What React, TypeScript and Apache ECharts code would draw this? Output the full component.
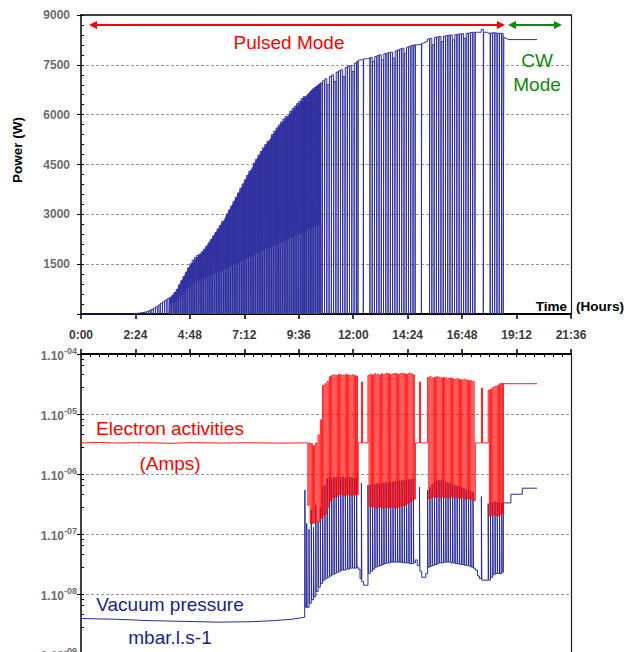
import React, { useEffect, useRef } from "react";
import * as echarts from "echarts";

// ---------- tick labels ----------
const timeTickLabels = ["0:00", "2:24", "4:48", "7:12", "9:36", "12:00", "14:24", "16:48", "19:12", "21:36"];
const pressureTickExponents: Record<string, string> = { "-4": "-04", "-5": "-05", "-6": "-06", "-7": "-07", "-8": "-08", "-9": "-09" };

// ---------- top chart: power (W) ----------
// idle start
const idleHours = [0, 2.3];
const idlePower = [0, 0];
// ramp-up drops (each drop reaches 0 W)
const rampHours = [
  2.4, 2.5, 2.6, 2.7, 2.8, 2.9, 3.0, 3.1, 3.2, 3.3,
  3.4, 3.5, 3.6, 3.7, 3.8, 3.9, 4.0, 4.1, 4.2, 4.3,
  4.4, 4.5, 4.6, 4.7, 4.8, 4.9, 5.0, 5.1, 5.2, 5.3,
  5.4, 5.5, 5.6, 5.7, 5.8, 5.9, 6.0, 6.1, 6.2, 6.3,
  6.4, 6.5, 6.6, 6.7, 6.8, 6.9, 7.0, 7.1, 7.2, 7.3,
  7.4, 7.5, 7.6, 7.7, 7.8, 7.9, 8.0, 8.1, 8.2, 8.3,
  8.4, 8.5, 8.6, 8.7, 8.8, 8.9, 9.0, 9.1, 9.2, 9.3,
  9.4, 9.5, 9.6, 9.7, 9.8,
];
const rampPeak = [
  20, 25, 35, 45, 60, 80, 110, 140, 180, 220,
  270, 320, 370, 420, 460, 500, 560, 650, 740, 880,
  1000, 1130, 1260, 1390, 1510, 1620, 1700, 1760, 1800, 1870,
  1950, 2040, 2140, 2240, 2350, 2450, 2560, 2670, 2780, 2700,
  3010, 3130, 3250, 3380, 3510, 3640, 3780, 3910, 4040, 4170,
  4300, 4250, 4540, 4660, 4780, 4890, 5000, 5100, 5200, 5150,
  5400, 5500, 5600, 5690, 5780, 5870, 5950, 5850, 6100, 6180,
  6250, 6330, 6400, 6480, 6550,
];
const rampFloorLevel = 0;
// dense pulsing band (solid region of the ramp)
const bandHours = [3.9, 4.2, 4.5, 4.8, 5.1, 5.4, 5.8, 6.2, 6.6, 7.0, 7.4, 7.8, 8.2, 8.6, 9.0, 9.4, 9.8, 10.2, 10.6];
const bandUpper = [450, 700, 1080, 1450, 1700, 1900, 2300, 2720, 3200, 3720, 4240, 4720, 5140, 5540, 5880, 6180, 6480, 6780, 6980];
const bandLower = [250, 400, 620, 850, 980, 1060, 1180, 1310, 1440, 1570, 1700, 1830, 1960, 2080, 2210, 2340, 2470, 2590, 2720];

// ---------- shared pulse events (pulsed mode, after 9:52) ----------
const pulseHours = [
  9.87, 9.95, 10.05, 10.15, 10.25, 10.35, 10.45, 10.55,
  10.65, 10.75, 10.85, 10.95, 11.05, 11.15, 11.25, 11.35, 11.45, 11.55, 11.65, 11.75, 11.85, 11.95, 12.05, 12.15,
  12.22, 12.3, 12.36, 12.46, 12.56,
  12.65, 12.75, 12.85, 12.95, 13.05, 13.15, 13.25, 13.35, 13.45, 13.55, 13.65, 13.75, 13.85, 13.95, 14.05, 14.15, 14.25, 14.35, 14.45, 14.55, 14.65,
  14.74, 14.82, 14.92, 15.02, 15.12, 15.2,
  15.28, 15.38, 15.48, 15.58, 15.68, 15.78, 15.88, 15.98, 16.08, 16.18, 16.28, 16.38, 16.48, 16.58, 16.68, 16.78, 16.88, 16.98, 17.08, 17.18, 17.28,
  17.38, 17.48, 17.56, 17.65, 17.75, 17.85,
  17.95, 18.05, 18.15, 18.25, 18.35, 18.45, 18.55,
];
const powerPeak = [
  6480, 6530, 6600, 6680, 6750, 6820, 6880, 6950,
  7020, 7080, 6900, 7150, 7200, 7000, 7280, 7320, 7350, 7150, 7420, 7450, 7480, 7300, 7550, 7600,
  7640, 7650, 7650, 7680, 7690,
  7700, 7720, 7600, 7750, 7780, 7800, 7650, 7830, 7850, 7870, 7880, 7700, 7920, 7950, 7980, 8000, 7850, 8030, 8060, 8080, 8100,
  8100, 8110, 8120, 8150, 8170, 8200,
  8280, 8300, 8100, 8320, 8340, 8350, 8200, 8360, 8380, 8390, 8400, 8250, 8410, 8420, 8430, 8440, 8300, 8450, 8460, 8470, 8480,
  8480, 8480, 8480, 8570, 8480, 8480,
  8450, 8460, 8470, 8460, 8450, 8450, 8440,
];
const powerFloor = [
  0, 0, 0, 0, 0, 0, 0, 0,
  0, 0, 0, 0, 0, 0, 0, 0, 0, 0, 0, 0, 0, 0, 0, 0,
  7640, 7650, 0, 7680, 7690,
  0, 0, 0, 0, 0, 0, 0, 0, 0, 0, 0, 0, 0, 0, 0, 0, 0, 0, 0, 0, 0,
  8100, 8110, 0, 8150, 8170, 8200,
  0, 0, 0, 0, 0, 0, 0, 0, 0, 0, 0, 0, 0, 0, 0, 0, 0, 0, 0, 0, 0,
  8480, 8480, 8480, 0, 8480, 8480,
  0, 0, 0, 0, 0, 0, 0,
];
const electronHigh = [
  3.3e-6, 3.3e-6, 3.3e-6, 3.2e-6, 3.0e-6, 3.3e-6, 4.5e-6, 8e-6,
  3e-5, 3.2e-5, 3.5e-5, 4.2e-5, 4.4e-5, 4.5e-5, 4.4e-5, 4.6e-5, 4.5e-5, 4.4e-5, 4.6e-5, 4.5e-5, 4.4e-5, 4.5e-5, 4.4e-5, 4.3e-5,
  3.3e-6, 3.3e-6, 3.4e-5, 3.3e-6, 3.3e-6,
  4.4e-5, 4.6e-5, 4.5e-5, 4.7e-5, 4.6e-5, 4.5e-5, 4.7e-5, 4.6e-5, 4.8e-5, 4.7e-5, 4.6e-5, 4.7e-5, 4.8e-5, 4.6e-5, 4.7e-5, 4.8e-5, 4.7e-5, 4.6e-5, 4.8e-5, 4.7e-5, 4.5e-5,
  3.3e-6, 3.3e-6, 3.4e-5, 3.3e-6, 3.3e-6, 3.3e-6,
  4.1e-5, 4.2e-5, 4.0e-5, 4.1e-5, 4.2e-5, 4.1e-5, 4.0e-5, 4.1e-5, 4.0e-5, 3.9e-5, 4.0e-5, 3.9e-5, 3.8e-5, 3.9e-5, 3.8e-5, 3.7e-5, 3.8e-5, 3.7e-5, 3.6e-5, 3.6e-5, 3.5e-5,
  3.3e-6, 3.3e-6, 3.3e-6, 2.7e-5, 3.3e-6, 3.3e-6,
  2.5e-5, 2.6e-5, 2.8e-5, 2.9e-5, 3.0e-5, 3.2e-5, 3.3e-5,
];
const electronLow = [
  3.3e-6, 3e-7, 1.5e-7, 1.5e-7, 1.5e-7, 1.6e-7, 1.6e-7, 1.8e-7,
  2e-7, 2.2e-7, 2.8e-7, 3.5e-7, 4e-7, 4.2e-7, 4.2e-7, 4.5e-7, 4.5e-7, 4.3e-7, 4.5e-7, 4.5e-7, 4.4e-7, 4.5e-7, 4.5e-7, 4.5e-7,
  3.3e-6, 3.3e-6, 3.3e-6, 3.3e-6, 3.3e-6,
  3e-7, 2.8e-7, 2.8e-7, 2.7e-7, 2.8e-7, 2.8e-7, 2.7e-7, 2.8e-7, 2.8e-7, 2.7e-7, 2.8e-7, 2.8e-7, 2.7e-7, 2.8e-7, 2.9e-7, 3e-7, 3e-7, 3.2e-7, 3.4e-7, 3.6e-7, 3.8e-7,
  3.3e-6, 3.3e-6, 3.3e-6, 3.3e-6, 3.3e-6, 3.3e-6,
  3.8e-7, 4e-7, 4.2e-7, 4e-7, 4.1e-7, 4e-7, 4.2e-7, 4e-7, 4.1e-7, 4e-7, 4.2e-7, 4e-7, 4.1e-7, 4e-7, 3.9e-7, 4e-7, 3.8e-7, 3.9e-7, 3.8e-7, 3.7e-7, 3.6e-7,
  3.3e-6, 3.3e-6, 3.3e-6, 3.3e-6, 3.3e-6, 3.3e-6,
  2e-7, 2e-7, 2.1e-7, 2e-7, 2e-7, 2.1e-7, 2.2e-7,
];
const vacuumHigh = [
  5.4e-7, 1.5e-7, 1.2e-7, 2.5e-7, 1.3e-7, 3e-7, 1.6e-7, 2.8e-7,
  6e-7, 6.5e-7, 8.5e-7, 8.8e-7, 8.5e-7, 9e-7, 8.7e-7, 9e-7, 8.8e-7, 9e-7, 8.6e-7, 8.9e-7, 9e-7, 8.8e-7, 8.5e-7, 8.8e-7,
  2.6e-8, 1.8e-8, 7e-7, 1.4e-8, 1.4e-8,
  6.5e-7, 6.6e-7, 6.8e-7, 6.8e-7, 7e-7, 7e-7, 7.1e-7, 7.2e-7, 7.2e-7, 7.3e-7, 7.4e-7, 7.5e-7, 7.5e-7, 7.6e-7, 7.7e-7, 7.8e-7, 7.9e-7, 8e-7, 8.1e-7, 8.2e-7, 8.3e-7,
  3.7e-8, 3e-8, 6e-7, 1.9e-8, 1.9e-8, 2.2e-8,
  5.4e-7, 6e-7, 6.8e-7, 7.4e-7, 7.8e-7, 8e-7, 8e-7, 7.8e-7, 7.5e-7, 7.2e-7, 7e-7, 6.8e-7, 6.6e-7, 6.4e-7, 6.2e-7, 6e-7, 5.8e-7, 5.6e-7, 5.4e-7, 5.2e-7, 5e-7,
  2.5e-8, 2e-8, 1.8e-8, 4.2e-7, 1.7e-8, 1.7e-8,
  3.2e-7, 3.4e-7, 3.4e-7, 3.5e-7, 3.4e-7, 3.4e-7, 3.3e-7,
];
const vacuumLow = [
  6e-9, 6e-9, 7e-9, 8e-9, 9e-9, 1.1e-8, 1.3e-8, 1.5e-8,
  1.7e-8, 1.8e-8, 1.9e-8, 2e-8, 2.1e-8, 2.2e-8, 2.3e-8, 2.4e-8, 2.5e-8, 2.5e-8, 2.6e-8, 2.6e-8, 2.7e-8, 2.7e-8, 2.7e-8, 2.8e-8,
  2.6e-8, 1.8e-8, 1.6e-8, 1.4e-8, 1.4e-8,
  2.2e-8, 2.4e-8, 2.6e-8, 2.8e-8, 2.9e-8, 3e-8, 3.1e-8, 3.2e-8, 3.3e-8, 3.3e-8, 3.4e-8, 3.4e-8, 3.4e-8, 3.4e-8, 3.4e-8, 3.3e-8, 3.3e-8, 3.3e-8, 3.2e-8, 3.2e-8, 3.3e-8,
  3.7e-8, 3e-8, 2.4e-8, 1.9e-8, 1.9e-8, 2.2e-8,
  2.8e-8, 2.9e-8, 3e-8, 3.1e-8, 3.2e-8, 3.3e-8, 3.3e-8, 3.4e-8, 3.4e-8, 3.4e-8, 3.3e-8, 3.3e-8, 3.2e-8, 3.2e-8, 3.1e-8, 3.1e-8, 3e-8, 3e-8, 2.9e-8, 2.8e-8, 2.7e-8,
  2.5e-8, 2e-8, 1.8e-8, 1.7e-8, 1.7e-8, 1.7e-8,
  1.7e-8, 1.9e-8, 2.1e-8, 2.2e-8, 2.2e-8, 2.2e-8, 2.3e-8,
];

// ---------- CW mode tails ----------
const powerTailHours = [18.62, 18.64, 18.85, 20.1];
const powerTail = [0, 8330, 8260, 8260];
const electronTailHours = [18.62, 20.1];
const electronTail = [3.2e-5, 3.2e-5];
const vacuumTailHours = [18.62, 18.95, 18.95, 19.45, 19.45, 20.1];
const vacuumTail = [3.3e-7, 3.3e-7, 4.6e-7, 4.6e-7, 5.8e-7, 5.8e-7];

// ---------- quiet baselines before pulsing ----------
const electronBaseHours = [0, 0.8, 1.6, 2.4, 3.2, 4.0, 4.8, 5.6, 6.4, 7.2, 8.0, 8.8, 9.6, 9.86];
const electronBase = [3.3e-6, 3.35e-6, 3.28e-6, 3.32e-6, 3.3e-6, 3.25e-6, 3.33e-6, 3.3e-6, 3.28e-6, 3.32e-6, 3.3e-6, 3.27e-6, 3.3e-6, 3.3e-6];
const vacuumBaseHours = [0, 1.5, 3, 4.5, 6, 7.5, 8.5, 9.3, 9.86];
const vacuumBase = [3.9e-9, 3.8e-9, 3.6e-9, 3.5e-9, 3.4e-9, 3.45e-9, 3.6e-9, 3.8e-9, 4.1e-9];

// ---------- helpers ----------
const toMin = (h: number) => h * 60;
const pairs = (hours: number[], vals: number[]) => hours.map((h, i) => [toMin(h), vals[i]]);

function pulseTrain(hours: number[], high: number[], low: number[], frac: number, endGap: number) {
  const pts: number[][] = [];
  for (let i = 0; i < hours.length; i++) {
    const t = hours[i];
    const next = i + 1 < hours.length ? hours[i + 1] : t + endGap;
    const m = t + frac * (next - t);
    pts.push([toMin(t), high[i]], [toMin(m), high[i]], [toMin(m), low[i]], [toMin(next), low[i]]);
  }
  return pts;
}

const FONT = '"Liberation Sans", Arial, Helvetica, sans-serif';

function buildOption() {
  const powerHours = rampHours.concat(pulseHours);
  const powerHigh = rampPeak.concat(powerPeak);
  const powerLow = rampHours.map(() => rampFloorLevel).concat(powerFloor);
  const powerData = [
    ...pairs(idleHours, idlePower),
    ...pulseTrain(powerHours, powerHigh, powerLow, 0.85, 0.07),
    ...pairs(powerTailHours, powerTail),
  ];
  const electronData = [
    ...pairs(electronBaseHours, electronBase),
    ...pulseTrain(pulseHours, electronHigh, electronLow, 0.5, 0.07),
    ...pairs(electronTailHours, electronTail),
  ];
  const vacuumData = [
    ...pairs(vacuumBaseHours, vacuumBase),
    ...pulseTrain(pulseHours, vacuumHigh, vacuumLow, 0.2, 0.07),
    ...pairs(vacuumTailHours, vacuumTail),
  ];

  const dashed = { show: true, showMinLine: false, showMaxLine: false, lineStyle: { color: "#9a9a9a", type: [3, 2], width: 1 } };
  const xBase = { type: "value", min: 0, max: 1296, interval: 144 };
  const labelGray = { color: "#6b6b6b", fontWeight: "bold", fontSize: 12, fontFamily: FONT };

  return {
    animation: false,
    grid: [
      { left: 81, top: 15, width: 490, height: 299, containLabel: false, outerBoundsMode: "none" },
      { left: 81, top: 354, width: 490, height: 300, containLabel: false, outerBoundsMode: "none" },
    ],
    xAxis: [
      {
        ...xBase, gridIndex: 0, position: "bottom",
        axisLine: { show: true, onZero: false, lineStyle: { color: "#000", width: 2 } },
        axisTick: { show: true, length: 5, lineStyle: { color: "#000", width: 1.5 } },
        axisLabel: {
          show: true, margin: 15, color: "#3a3a3a", fontWeight: "bold", fontSize: 12, fontFamily: FONT,
          formatter: (v: number) => timeTickLabels[Math.round(v / 144)] ?? "",
        },
        splitLine: { show: false },
      },
      {
        ...xBase, gridIndex: 0, position: "top",
        axisLine: { show: true, onZero: false, lineStyle: { color: "#000", width: 1.5 } },
        axisTick: { show: false }, axisLabel: { show: false }, splitLine: { show: false },
      },
      {
        ...xBase, gridIndex: 1, position: "top",
        axisLine: { show: true, onZero: false, lineStyle: { color: "#000", width: 2 } },
        axisTick: { show: true, length: 5, lineStyle: { color: "#000", width: 1.5 } },
        axisLabel: { show: false }, splitLine: { show: false },
      },
      {
        ...xBase, gridIndex: 1, position: "top",
        axisLine: { show: false },
        axisTick: { show: true, inside: true, length: 3, lineStyle: { color: "#000" } },
        minorTick: { show: true, splitNumber: 6, length: 3, lineStyle: { color: "#000" } },
        axisLabel: { show: false }, splitLine: { show: false },
      },
    ],
    yAxis: [
      {
        type: "value", gridIndex: 0, min: 0, max: 9000, interval: 1500, position: "left",
        axisLine: { show: true, onZero: false, lineStyle: { color: "#000", width: 1.5 } },
        axisTick: { show: true, length: 4, lineStyle: { color: "#000" } },
        axisLabel: { ...labelGray, margin: 11, formatter: (v: number) => (v === 0 ? "" : String(v)) },
        splitLine: dashed,
      },
      {
        type: "value", gridIndex: 0, min: 0, max: 9000, interval: 1500, position: "left",
        axisLine: { show: false },
        axisTick: { show: true, inside: true, length: 3, lineStyle: { color: "#000" } },
        minorTick: { show: true, splitNumber: 5, length: 3, lineStyle: { color: "#000" } },
        axisLabel: { show: false }, splitLine: { show: false },
      },
      {
        type: "value", gridIndex: 0, min: 0, max: 9000, interval: 1500, position: "right",
        axisLine: { show: true, onZero: false, lineStyle: { color: "#222", width: 1.2 } },
        axisTick: { show: false }, axisLabel: { show: false }, splitLine: { show: false },
      },
      {
        type: "log", logBase: 10, gridIndex: 1, min: 1e-9, max: 1e-4, position: "left",
        axisLine: { show: true, onZero: false, lineStyle: { color: "#000", width: 1.5 } },
        axisTick: { show: true, length: 4, lineStyle: { color: "#000" } },
        axisLabel: {
          show: true, margin: 4,
          formatter: (v: number) => {
            const e = String(Math.round(Math.log10(v)));
            return "{m|1.10}{s|" + (pressureTickExponents[e] ?? e) + "}";
          },
          rich: {
            m: { ...labelGray, fontSize: 12, verticalAlign: "bottom" },
            s: { ...labelGray, fontSize: 9, verticalAlign: "bottom", padding: [0, 0, 6, 0] },
          },
        },
        splitLine: dashed,
      },
      {
        type: "log", logBase: 10, gridIndex: 1, min: 1e-9, max: 1e-4, position: "left",
        axisLine: { show: false },
        axisTick: { show: true, inside: true, length: 3, lineStyle: { color: "#000" } },
        minorTick: { show: true, splitNumber: 5, length: 3, lineStyle: { color: "#000" } },
        axisLabel: { show: false }, splitLine: { show: false },
      },
      {
        type: "log", logBase: 10, gridIndex: 1, min: 1e-9, max: 1e-4, position: "right",
        axisLine: { show: true, onZero: false, lineStyle: { color: "#222", width: 1.2 } },
        axisTick: { show: false }, axisLabel: { show: false }, splitLine: { show: false },
      },
    ],
    series: [
      {
        type: "line", xAxisIndex: 0, yAxisIndex: 0, symbol: "none", silent: true,
        data: pairs(bandHours, bandUpper),
        lineStyle: { width: 0 }, areaStyle: { color: "#3a3aa6", opacity: 1 },
      },
      {
        type: "line", xAxisIndex: 0, yAxisIndex: 0, symbol: "none", silent: true,
        data: pairs(bandHours, bandLower),
        lineStyle: { width: 0 }, areaStyle: { color: "#5f5fb6", opacity: 1 },
      },
      {
        type: "line", xAxisIndex: 0, yAxisIndex: 0, symbol: "none", silent: true,
        data: powerData, lineStyle: { color: "#2f2f9f", width: 1 },
      },
      {
        type: "line", xAxisIndex: 2, yAxisIndex: 3, symbol: "none", silent: true,
        data: vacuumData, lineStyle: { color: "#2a2a98", width: 1 },
      },
      {
        type: "line", xAxisIndex: 2, yAxisIndex: 3, symbol: "none", silent: true,
        data: electronData, lineStyle: { color: "#ff0000", width: 1, opacity: 0.9 },
      },
    ],
    graphic: [
      {
        type: "text", x: 17, y: 150, rotation: Math.PI / 2, z: 100,
        style: { text: "Power (W)", fill: "#000", fontSize: 13.5, fontWeight: "bold", fontFamily: FONT, textAlign: "center", textVerticalAlign: "middle", align: "center", verticalAlign: "middle" },
      },
      {
        type: "text", x: 567, y: 306, z: 100,
        style: { text: "Time", fill: "#000", fontSize: 13.5, fontWeight: "bold", fontFamily: FONT, textAlign: "right", textVerticalAlign: "middle", align: "right", verticalAlign: "middle" },
      },
      {
        type: "text", x: 576, y: 306, z: 100,
        style: { text: "(Hours)", fill: "#000", fontSize: 13.5, fontWeight: "bold", fontFamily: FONT, textAlign: "left", textVerticalAlign: "middle", align: "left", verticalAlign: "middle" },
      },
      {
        type: "text", x: 289, y: 42, z: 100,
        style: { text: "Pulsed Mode", fill: "#ff0000", fontSize: 19, fontFamily: FONT, textAlign: "center", textVerticalAlign: "middle", align: "center", verticalAlign: "middle" },
      },
      {
        type: "text", x: 537, y: 60, z: 100,
        style: { text: "CW", fill: "#0b8a0b", fontSize: 19, fontFamily: FONT, textAlign: "center", textVerticalAlign: "middle", align: "center", verticalAlign: "middle" },
      },
      {
        type: "text", x: 537, y: 84, z: 100,
        style: { text: "Mode", fill: "#0b8a0b", fontSize: 19, fontFamily: FONT, textAlign: "center", textVerticalAlign: "middle", align: "center", verticalAlign: "middle" },
      },
      { type: "line", z: 100, shape: { x1: 95, y1: 25, x2: 499, y2: 25 }, style: { stroke: "#ff0000", lineWidth: 2 } },
      { type: "polygon", z: 100, shape: { points: [[89, 25], [97, 21], [97, 29]] }, style: { fill: "#ff0000" } },
      { type: "polygon", z: 100, shape: { points: [[505, 25], [497, 21], [497, 29]] }, style: { fill: "#ff0000" } },
      { type: "line", z: 100, shape: { x1: 514, y1: 25, x2: 556, y2: 25 }, style: { stroke: "#0b8a0b", lineWidth: 2 } },
      { type: "polygon", z: 100, shape: { points: [[508, 25], [516, 21], [516, 29]] }, style: { fill: "#0b8a0b" } },
      { type: "polygon", z: 100, shape: { points: [[562, 25], [554, 21], [554, 29]] }, style: { fill: "#0b8a0b" } },
      {
        type: "text", x: 170, y: 428, z: 100,
        style: { text: "Electron activities", fill: "#ff0000", fontSize: 19, fontFamily: FONT, textAlign: "center", textVerticalAlign: "middle", align: "center", verticalAlign: "middle" },
      },
      {
        type: "text", x: 170, y: 463, z: 100,
        style: { text: "(Amps)", fill: "#ff0000", fontSize: 19, fontFamily: FONT, textAlign: "center", textVerticalAlign: "middle", align: "center", verticalAlign: "middle" },
      },
      {
        type: "text", x: 170, y: 604, z: 100,
        style: { text: "Vacuum pressure", fill: "#1c1c8c", fontSize: 19, fontFamily: FONT, textAlign: "center", textVerticalAlign: "middle", align: "center", verticalAlign: "middle" },
      },
      {
        type: "text", x: 170, y: 637, z: 100,
        style: { text: "mbar.l.s-1", fill: "#1c1c8c", fontSize: 19, fontFamily: FONT, textAlign: "center", textVerticalAlign: "middle", align: "center", verticalAlign: "middle" },
      },
    ],
  };
}

export default function App() {
  const ref = useRef<HTMLDivElement>(null);
  useEffect(() => {
    document.body.style.margin = "0";
    const chart = echarts.init(ref.current as HTMLDivElement, null, { renderer: "svg" });
    chart.setOption(buildOption() as any);
    return () => chart.dispose();
  }, []);
  return <div ref={ref} style={{ width: 626, height: 652, background: "#fff" }} />;
}
